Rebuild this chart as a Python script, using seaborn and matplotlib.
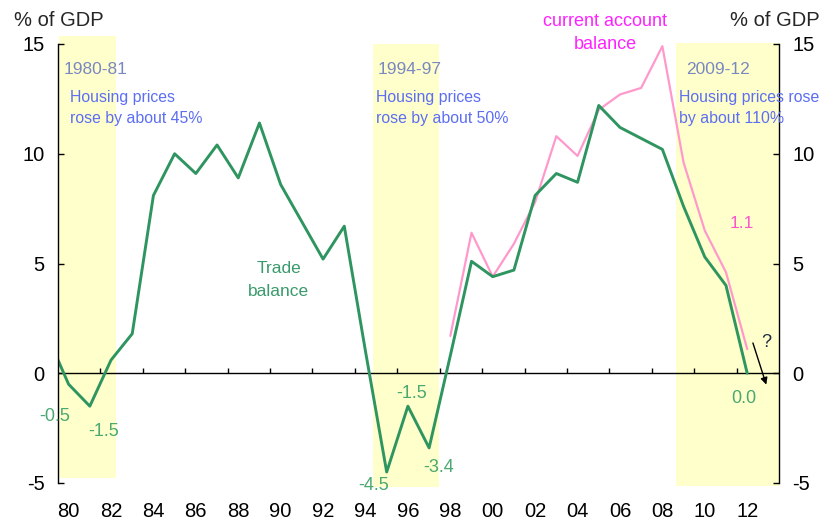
import numpy as np
import pandas as pd
import matplotlib
matplotlib.use("Agg")
import matplotlib.pyplot as plt
import seaborn as sns
from matplotlib.patches import Rectangle

# ---------------- data ----------------
trade_years = list(range(1979, 2013))
trade_balance = [1.7, -0.5, -1.5, 0.6, 1.8, 8.1, 10.0, 9.1, 10.4, 8.9, 11.4, 8.6,
                 6.9, 5.2, 6.7, 1.0, -4.5, -1.5, -3.4, 0.8, 5.1, 4.4, 4.7, 8.1,
                 9.1, 8.7, 12.2, 11.2, 10.7, 10.2, 7.6, 5.3, 4.0, 0.0]
ca_years = list(range(1998, 2013))
current_account = [1.7, 6.4, 4.4, 5.9, 7.8, 10.8, 9.9, 12.0, 12.7, 13.0, 14.9,
                   9.6, 6.5, 4.6, 1.1]
tick_years = list(range(1980, 2013, 2))
tick_labels = [f"{y % 100:02d}" for y in tick_years]
y_ticks = [-5, 0, 5, 10, 15]

# housing boom periods: (start, end, top, bottom, label, line1, line2)
booms = [(1979.53, 1982.22, 15.35, -4.78, "1980-81", "Housing prices", "rose by about 45%"),
         (1994.37, 1997.48, 15.0, -5.19, "1994-97", "Housing prices", "rose by about 50%"),
         (2008.65, 2013.5, 15.03, -5.15, "2009-12", "Housing prices rose", "by about 110%")]

trade_df = pd.DataFrame({"year": trade_years, "value": trade_balance})
ca_df = pd.DataFrame({"year": ca_years, "value": current_account})

# ---------------- style ----------------
sns.set_style("white")
plt.rcParams["font.family"] = ["Liberation Sans", "DejaVu Sans"]

fig = plt.figure(figsize=(8.25, 5.3), dpi=100)
ax = fig.add_axes([58 / 825, 47 / 530, 721 / 825, 439 / 530])

GREEN = "#2f9560"
PINK = "#ff99cc"
YELLOW = "#ffffcc"

for x0, x1, ytop, ybot, *_ in booms:
    ax.add_patch(Rectangle((x0, ybot), x1 - x0, ytop - ybot, facecolor=YELLOW,
                           edgecolor="none", zorder=0, clip_on=False))

sns.lineplot(data=ca_df, x="year", y="value", ax=ax, color=PINK, lw=1.6, zorder=3)
sns.lineplot(data=trade_df, x="year", y="value", ax=ax, color=GREEN, lw=2.1, zorder=4)

ax.set_xlim(1979.5, 2013.5)
ax.set_ylim(-5, 15)
ax.set_xlabel("")
ax.set_ylabel("")

for s in ["top", "bottom"]:
    ax.spines[s].set_visible(False)
for s in ["left", "right"]:
    ax.spines[s].set_visible(True)
    ax.spines[s].set_color("black")
    ax.spines[s].set_linewidth(1.0)
    ax.spines[s].set_zorder(5)

ax.set_yticks(y_ticks)
ax.set_yticklabels([str(v) for v in y_ticks])
ax.tick_params(axis="y", which="both", left=True, right=True, labelleft=True,
               labelright=True, direction="in", length=4, width=1, color="black",
               labelsize=14.5, pad=9.5, labelcolor="black")

ax.set_xticks(tick_years)
ax.set_xticklabels(tick_labels)
ax.tick_params(axis="x", length=0, labelsize=14.5, pad=14, labelcolor="black")

# zero line with category-boundary tick marks pointing up
ax.axhline(0, color="black", lw=1.0, zorder=2)
ax.vlines(np.arange(1981.5, 2013, 2), 0, 0.24, color="black", lw=1.0, zorder=2)

# ---------------- texts ----------------
fig.text(59 / 825, 1 - 20 / 530, "% of GDP", ha="center", va="center", fontsize=14.5)
fig.text(775 / 825, 1 - 20 / 530, "% of GDP", ha="center", va="center", fontsize=14.5)

period_x = [1979.76, 1994.56, 2009.12]
note_x = [1980.05, 1994.51, 2008.79]
for (x0, x1, ytop, ybot, per, l1, l2), px, nx in zip(booms, period_x, note_x):
    ax.text(px, 13.85, per, color="#7a88c0", fontsize=12.5, ha="left", va="center", zorder=6)
    ax.text(nx, 12.58, l1, color="#5c6ef2", fontsize=11.4, ha="left", va="center", zorder=6)
    ax.text(nx, 11.62, l2, color="#5c6ef2", fontsize=11.4, ha="left", va="center", zorder=6)

ax.text(2005.31, 16.04, "current account", color="#ff22ff", fontsize=13,
        ha="center", va="center", clip_on=False)
ax.text(2005.31, 14.99, "balance", color="#ff22ff", fontsize=13,
        ha="center", va="center", clip_on=False)

ax.text(1989.9, 4.78, "Trade", color="#3a9a6c", fontsize=12.5, ha="center", va="center")
ax.text(1989.9, 3.74, "balance", color="#3a9a6c", fontsize=12.5, ha="center", va="center")

LABEL_GREEN = "#4aa870"
for x, y, s in [(1979.34, -1.95, "-0.5"), (1981.65, -2.65, "-1.5"),
                (1994.37, -5.12, "-4.5"), (1996.16, -0.91, "-1.5"),
                (1997.44, -4.28, "-3.4"), (2011.86, -1.14, "0.0")]:
    ax.text(x, y, s, color=LABEL_GREEN, fontsize=13, ha="center", va="center",
            clip_on=False, zorder=6)
ax.text(2011.76, 6.83, "1.1", color="#ff55cc", fontsize=12.5, ha="center", va="center")
ax.text(2012.89, 1.41, "?", color="#1f2a44", fontsize=13, ha="center", va="center")
ax.annotate("", xy=(2012.94, -0.64), xytext=(2012.23, 1.5),
            arrowprops=dict(arrowstyle="-|>", color="black", lw=1, mutation_scale=10))

fig.savefig("out.png", dpi=100)
